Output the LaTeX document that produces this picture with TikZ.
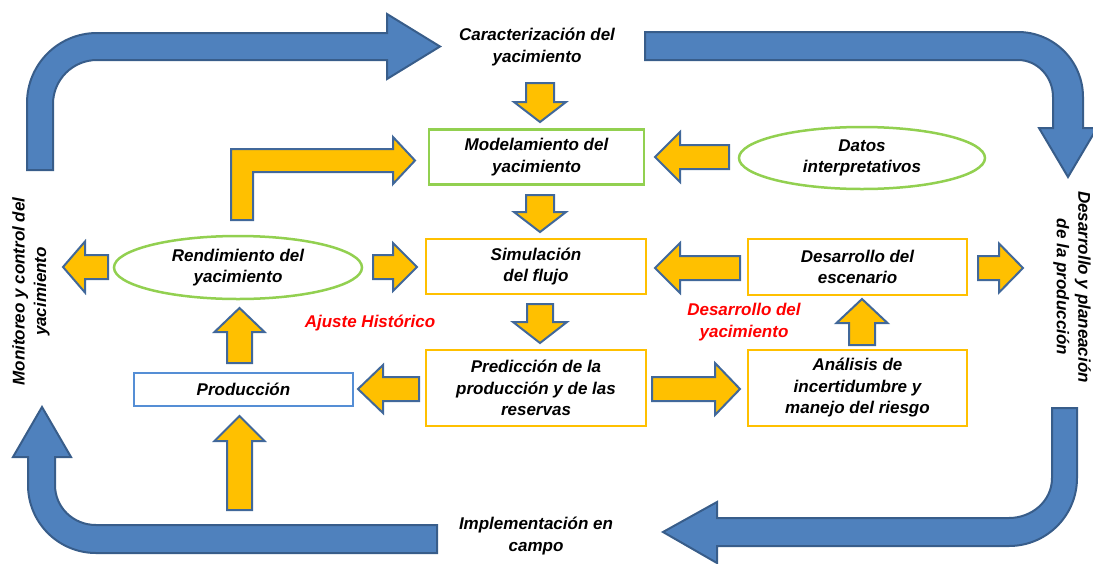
\documentclass[tikz,border=0pt]{standalone}
\usepackage{fontspec}
\setmainfont{Liberation Sans}
\usetikzlibrary{shapes.geometric}
\definecolor{bluefill}{HTML}{4F81BD}
\definecolor{blueline}{HTML}{385D8A}
\definecolor{yel}{HTML}{FFC000}
\definecolor{yline}{HTML}{41689A}
\definecolor{grn}{HTML}{92D050}
\definecolor{pbox}{HTML}{558ED5}
\definecolor{redtxt}{HTML}{FF0000}
\newcommand{\yharrow}[6]{\filldraw[yarr] (#1,#4-#5) -- (#2,#4-#5) -- (#2,#4-#6) -- (#3,#4) -- (#2,#4+#6) -- (#2,#4+#5) -- (#1,#4+#5) -- cycle;}
\newcommand{\yvarrow}[6]{\filldraw[yarr] (#4-#5,#1) -- (#4-#5,#2) -- (#4-#6,#2) -- (#4,#3) -- (#4+#6,#2) -- (#4+#5,#2) -- (#4+#5,#1) -- cycle;}
\begin{document}
\begin{tikzpicture}[x=1pt,y=-1pt,
  txt/.style={font=\fontsize{17}{21.5}\selectfont\bfseries\itshape, align=center, inner sep=0pt},
  barr/.style={fill=bluefill, draw=blueline, line width=2pt},
  yarr/.style={fill=yel, draw=yline, line width=2pt},
  ybox/.style={txt, draw=yel, line width=2.5pt, fill=white, rectangle},
  gbox/.style={txt, draw=grn, line width=2.5pt, fill=white, rectangle},
  pboxs/.style={txt, draw=pbox, line width=2.5pt, fill=white, rectangle},
  gell/.style={txt, draw=grn, line width=2.5pt, fill=white, ellipse},
  redt/.style={txt, text=redtxt}]
\useasboundingbox (0,0) rectangle (1093,563);
% blue cycle arrows
\filldraw[barr] (27,170) -- (27,103) .. controls (27,64.3) and (58.3,33) .. (97,33)
  -- (387,33) -- (387,14) -- (440,46.5) -- (387,79) -- (387,60) -- (97,60)
  .. controls (72.7,60) and (53,79.7) .. (53,104) -- (53,170) -- cycle;
\filldraw[barr] (645,32) -- (1018,32) .. controls (1053.9,32) and (1083,61.1) .. (1083,97)
  -- (1083,128) -- (1097,128) -- (1068,177) -- (1039,128) -- (1053,128) -- (1053,97)
  .. controls (1053,76.6) and (1037.3,60) .. (1018,60) -- (645,60) -- cycle;
\filldraw[barr] (1077,408) -- (1077,478) .. controls (1077,515.6) and (1046.6,546) .. (1009,546)
  -- (717,546) -- (717,563) -- (663,532) -- (717,502) -- (717,518) -- (1009,518)
  .. controls (1031.1,518) and (1052,501.7) .. (1052,478) -- (1052,408) -- cycle;
\filldraw[barr] (437,553) -- (96,553) .. controls (58.4,553) and (28,522.6) .. (28,485)
  -- (28,457) -- (13,457) -- (42,407) -- (71,457) -- (55,457) -- (55,485)
  .. controls (55,507.6) and (73.4,525) .. (96,525) -- (437,525) -- cycle;
% yellow block arrows
\yharrow{729}{680}{655}{157}{12}{25}
\yharrow{740}{680}{655}{268}{12}{25}
\yharrow{978}{999}{1023}{268}{12}{24.5}
\yharrow{652}{715}{740}{389}{12}{26}
\yharrow{419}{383}{358}{389}{12}{24}
\yharrow{108}{85}{63}{267}{12}{25.5}
\yharrow{373}{393}{417}{267}{12}{24}
\yvarrow{83}{102}{122}{540}{14}{26}
\yvarrow{195}{212}{232}{540}{14}{26}
\yvarrow{304}{322}{343}{540}{13}{27}
\yvarrow{345}{323}{299}{862}{13}{25.5}
\yvarrow{363}{332}{308}{239.5}{12.5}{25}
\yvarrow{510}{441}{416}{239.5}{12.5}{25}
\filldraw[yarr] (231,220) -- (231,149) -- (393,149) -- (393,137) -- (415,160.5)
  -- (393,184) -- (393,172) -- (253,172) -- (253,220) -- cycle;
% boxes
\node[gbox, minimum width=215pt, minimum height=55pt] (model) at (536.5,157) {Modelamiento del\\yacimiento};
\node[ybox, minimum width=220pt, minimum height=55pt] (sim) at (536,266.5) {Simulación\\del flujo};
\node[ybox, minimum width=219pt, minimum height=56pt] (esc) at (857.5,267) {Desarrollo del\\escenario};
\node[ybox, minimum width=220pt, minimum height=76pt] (pred) at (536,388) {Predicción de la\\producción y de las\\reservas};
\node[ybox, minimum width=219pt, minimum height=76pt] (anal) at (857.5,388) {Análisis de\\incertidumbre y\\manejo del riesgo};
\node[pboxs, minimum width=219pt, minimum height=33pt] (prod) at (243.5,389.5) {Producción};
\node[gell, minimum width=248pt, minimum height=63pt] (rend) at (238,267.5) {Rendimiento del\\yacimiento};
\node[gell, minimum width=246pt, minimum height=62pt] (datos) at (862,158) {Datos\\interpretativos};
% free labels
\node[txt] (car) at (537,47) {Caracterización del\\yacimiento};
\node[txt] (impl) at (536,536) {Implementación en\\campo};
\node[txt, rotate=90] (mon) at (31,291.5) {Monitoreo y control del\\yacimiento};
\node[txt, rotate=-90] (desp) at (1072,287) {Desarrollo y planeación\\de la producción};
\node[redt] (ajuste) at (370,323) {Ajuste Histórico};
\node[redt] (desy) at (744,322) {Desarrollo del\\yacimiento};
\end{tikzpicture}
\end{document}
